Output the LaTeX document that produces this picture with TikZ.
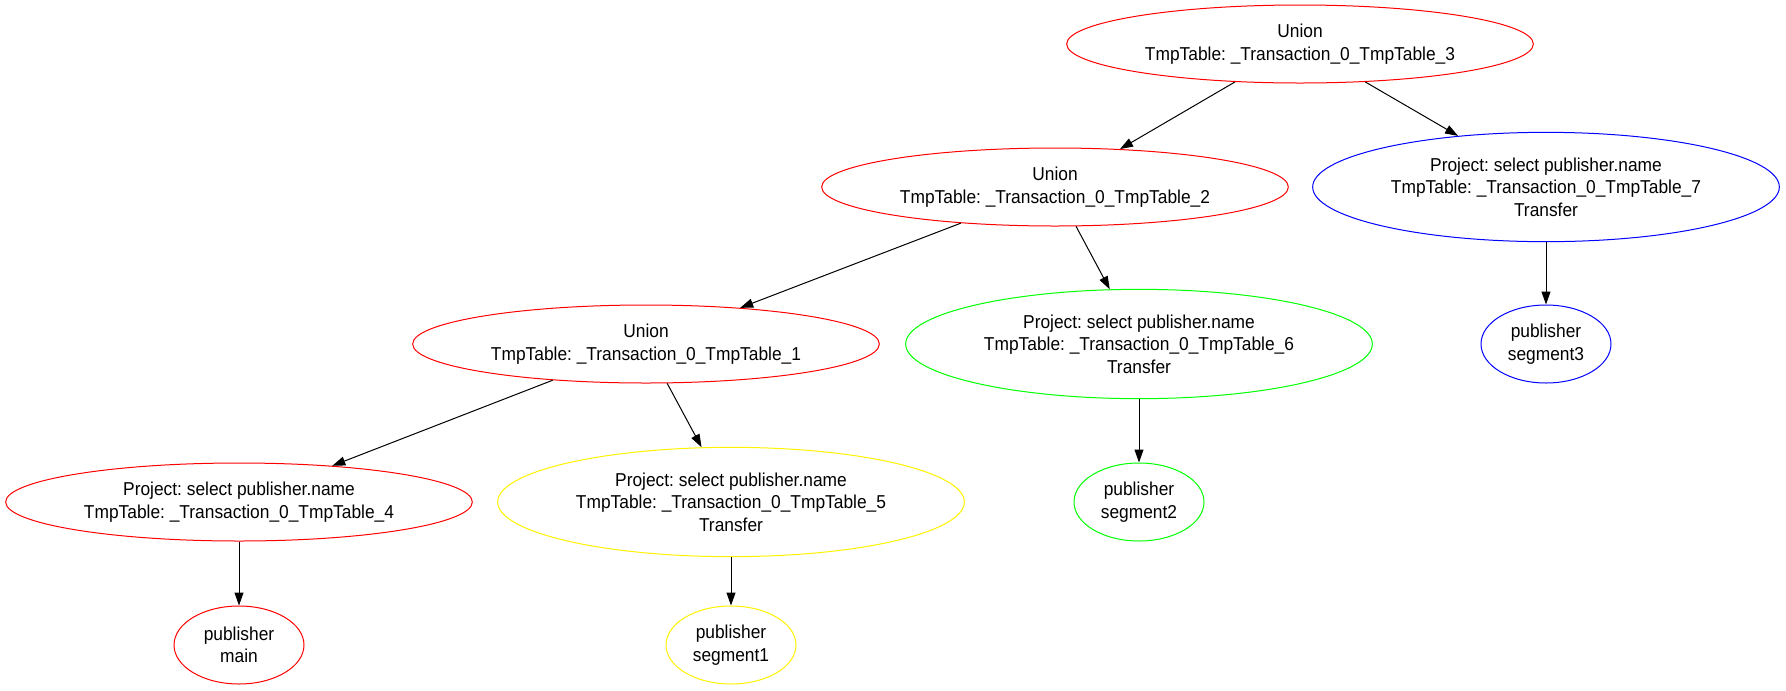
\documentclass[tikz,border=0pt]{standalone}
\usepackage{fontspec}
\setmainfont{Liberation Sans}[FakeStretch=0.93]
\usetikzlibrary{arrows.meta,shapes.geometric}
\frenchspacing

\begin{document}
\begin{tikzpicture}[
  x=0.75pt, y=-0.75pt,
  op/.style={ellipse, draw=#1, line width=0.75pt, inner xsep=-4pt, inner ysep=0pt, align=center, minimum width=350pt, minimum height=58.5pt, font=\fontsize{14pt}{16.8pt}\selectfont},
  xfer/.style={op=#1, minimum height=82pt},
  leaf/.style={op=#1, minimum width=97.5pt},
  arrow/.style={-{Triangle[length=9.75pt,width=6.75pt]}, line width=0.75pt}
]
\useasboundingbox (0,0) rectangle (1786,690);

\node[op=red] (u3) at (1300,44) {Union\\TmpTable: \_Transaction\_0\_TmpTable\_3};
\node[op=red] (u2) at (1055,187) {Union\\TmpTable: \_Transaction\_0\_TmpTable\_2};
\node[xfer=blue] (p7) at (1546,187) {Project: select publisher.name\\TmpTable: \_Transaction\_0\_TmpTable\_7\\Transfer};
\node[op=red] (u1) at (646,344) {Union\\TmpTable: \_Transaction\_0\_TmpTable\_1};
\node[xfer=green] (p6) at (1139,344) {Project: select publisher.name\\TmpTable: \_Transaction\_0\_TmpTable\_6\\Transfer};
\node[leaf=blue] (seg3) at (1546,344) {publisher\\segment3};
\node[op=red] (p4) at (239,502) {Project: select publisher.name\\TmpTable: \_Transaction\_0\_TmpTable\_4};
\node[xfer=yellow] (p5) at (731,502) {Project: select publisher.name\\TmpTable: \_Transaction\_0\_TmpTable\_5\\Transfer};
\node[leaf=green] (seg2) at (1139,502) {publisher\\segment2};
\node[leaf=red] (main) at (239,645) {publisher\\main};
\node[leaf=yellow] (seg1) at (731,645) {publisher\\segment1};

\draw[arrow] (u3) -- (u2);
\draw[arrow] (u3) -- (p7);
\draw[arrow] (u2) -- (u1);
\draw[arrow] (u2) -- (p6);
\draw[arrow] (p7) -- (seg3);
\draw[arrow] (u1) -- (p4);
\draw[arrow] (u1) -- (p5);
\draw[arrow] (p6) -- (seg2);
\draw[arrow] (p4) -- (main);
\draw[arrow] (p5) -- (seg1);
\end{tikzpicture}
\end{document}
